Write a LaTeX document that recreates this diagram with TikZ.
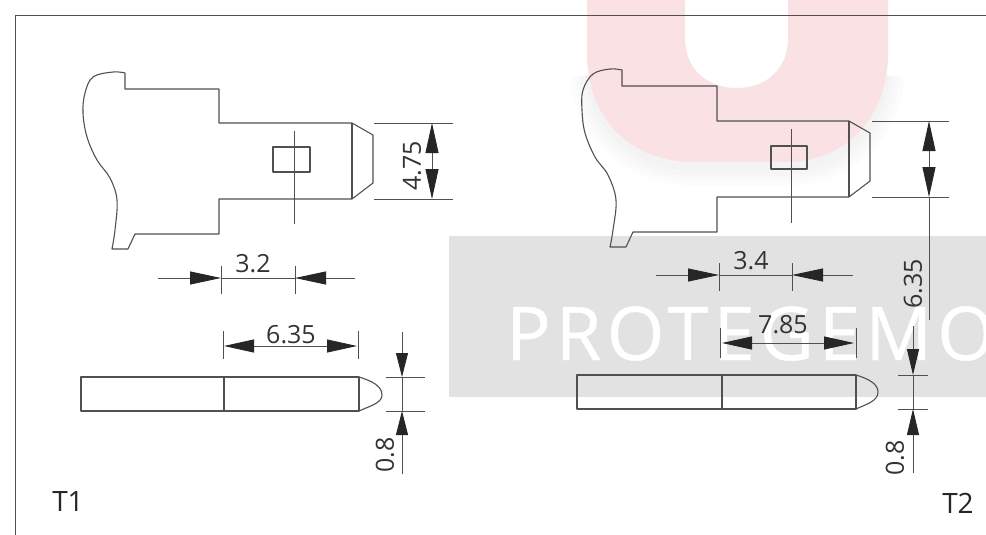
\documentclass[tikz,border=0pt]{standalone}
\usepackage{fontspec}
\setmainfont{Open Sans}
\newfontfamily\markfont[LetterSpace=7,FakeBold=0.6]{Open Sans}
\usetikzlibrary{arrows.meta}
\definecolor{MarkPink}{RGB}{250,226,228}
\definecolor{MarkGrey}{RGB}{226,226,226}
\definecolor{InkGrey}{RGB}{80,80,80}
\tikzset{
  partline/.style={line width=1.1pt,InkGrey,line join=round},
  dimline/.style={line width=0.9pt,InkGrey},
  dimtip/.style={-{Triangle[length=31pt,width=13pt,black!85]}},
  dimtips/.style={{Triangle[length=30pt,width=13pt,black!85]}-{Triangle[length=30pt,width=13pt,black!85]}},
  dimtext/.style={inner sep=0mm,font=\fontsize{25}{25}\selectfont,text=black!80},
  tagtext/.style={inner sep=0mm,font=\fontsize{28}{28}\selectfont,text=black!85}
}
\begin{document}
\begin{tikzpicture}[x=1pt,y=-1pt]
          \useasboundingbox (0,0) rectangle (986,535);
          % watermark
          \foreach \w in {40,30,20,10}
            \draw[black,opacity=0.01,line width=\w pt] (590,75) .. controls (595,125) and (635,166) .. (695,166) -- (785,166) .. controls (845,166) and (880,125) .. (885,75);
          \fill[MarkPink] (587,0) -- (587,60) .. controls (590,120) and (630,162) .. (695,162) -- (785,162) .. controls (845,162) and (885,120) .. (888,60) -- (888,0) -- (788,0) -- (788,38) .. controls (788,70) and (765,88) .. (737,88) .. controls (708,88) and (685,70) .. (685,38) -- (685,0) -- cycle;
          \fill[MarkGrey] (449,236) rectangle (986,397);
          \begin{scope}
            \clip (449,236) rectangle (986,397);
            \node[anchor=base west,inner sep=0mm,white,font=\markfont\fontsize{74}{74}\selectfont] (wordmark) at (506,360) {PROTEGEMO};
          \end{scope}
          % frame
          \draw[line width=1pt,InkGrey] (15,535) -- (15,16) -- (986,16);
          % T1 side view
          \draw[partline] (125,89) -- (125,73) -- plot[smooth,tension=0.6] coordinates {(125,73) (113,72) (93,77) (85,93) (83,113) (87,137) (97,160) (110,178) (117,200) (115,230) (112,249)} -- (128,249) -- (135,234) -- (219,234) -- (219,199) -- (352,199) -- (373,183) -- (373,135) -- (352,123) -- (219,123) -- (219,89) -- cycle;
          \draw[partline] (352,123) -- (352,199);
          \draw[partline] (273,147) rectangle (310,172);
          \draw[dimline] (294,131) -- (294,224);
          \draw[dimline] (374,123) -- (453,123);
          \draw[dimline] (374,199) -- (453,199);
          \draw[dimline,dimtips] (432,123) -- (432,199);
          \node[dimtext,rotate=90] (widthA) at (412,166) {4.75};
          \draw[dimline] (221,266) -- (221,294);
          \draw[dimline] (295,266) -- (295,294);
          \draw[dimline,dimtip] (158,278) -- (221,278);
          \draw[dimline,dimtip] (355,278) -- (295,278);
          \draw[dimline] (221,278) -- (295,278);
          \node[dimtext] (holeA) at (253,264) {3.2};
          % T1 edge view
          \draw[partline] (81,377) rectangle (359,411);
          \draw[partline] (224,377) -- (224,411);
          \draw[partline] (359,377) .. controls (372,381) and (382,386) .. (382,395) .. controls (382,403) and (370,406) .. (359,411);
          \draw[dimline] (223,331) -- (223,359);
          \draw[dimline] (358,331) -- (358,359);
          \draw[dimline,dimtips] (224,346) -- (357,346);
          \node[dimtext] (lengthA) at (291,335) {6.35};
          \draw[dimline] (386,377) -- (425,377);
          \draw[dimline] (386,411) -- (425,411);
          \draw[dimline,{Triangle[length=24pt,width=12pt,black!85]}-] (402,377) -- (402,332);
          \draw[dimline,{Triangle[length=24pt,width=12pt,black!85]}-] (402,411) -- (402,474);
          \draw[dimline] (402,377) -- (402,411);
          \node[dimtext,rotate=90] (thickA) at (385,455) {0.8};
          \node[tagtext] (tagA) at (68,502) {T1};
          % T2 side view
          \draw[partline] (622,86) -- (622,70) -- plot[smooth,tension=0.6] coordinates {(622,70) (610,69) (593,74) (583,90) (582,110) (585,133) (595,157) (608,175) (616,200) (613,230) (610,247)} -- (626,247) -- (633,232) -- (717,232) -- (717,197) -- (849,197) -- (870,181) -- (870,133) -- (849,121) -- (717,121) -- (717,86) -- cycle;
          \draw[partline] (849,121) -- (849,197);
          \draw[partline] (771,146) rectangle (807,169);
          \draw[dimline] (791,129) -- (791,223);
          \draw[dimline] (872,121) -- (949,121);
          \draw[dimline] (872,197) -- (949,197);
          \draw[dimline,dimtips] (929,121) -- (929,197);
          \draw[dimline] (929,197) -- (929,320);
          \node[dimtext,rotate=90] (widthB) at (913,284) {6.35};
          \draw[dimline] (719,263) -- (719,291);
          \draw[dimline] (792,263) -- (792,291);
          \draw[dimline,dimtip] (656,275) -- (719,275);
          \draw[dimline,dimtip] (853,275) -- (792,275);
          \draw[dimline] (719,275) -- (792,275);
          \node[dimtext] (holeB) at (751,261) {3.4};
          % T2 edge view
          \draw[partline] (577,375) rectangle (856,409);
          \draw[partline] (722,375) -- (722,409);
          \draw[partline] (856,375) .. controls (869,379) and (878,384) .. (878,392) .. controls (878,401) and (867,404) .. (856,409);
          \draw[dimline] (720,328) -- (720,358);
          \draw[dimline] (856,328) -- (856,358);
          \draw[dimline,dimtips] (722,343) -- (854,343);
          \node[dimtext] (lengthB) at (783,325) {7.85};
          \draw[dimline] (898,375) -- (928,375);
          \draw[dimline] (898,409) -- (928,409);
          \draw[dimline,{Triangle[length=26pt,width=12pt,black!85]}-] (913,375) -- (913,326);
          \draw[dimline,{Triangle[length=26pt,width=12pt,black!85]}-] (913,409) -- (913,473);
          \draw[dimline] (913,375) -- (913,409);
          \node[dimtext,rotate=90] (thickB) at (895,458) {0.8};
          \node[tagtext] (tagB) at (958,503) {T2};
        \end{tikzpicture}
\end{document}
